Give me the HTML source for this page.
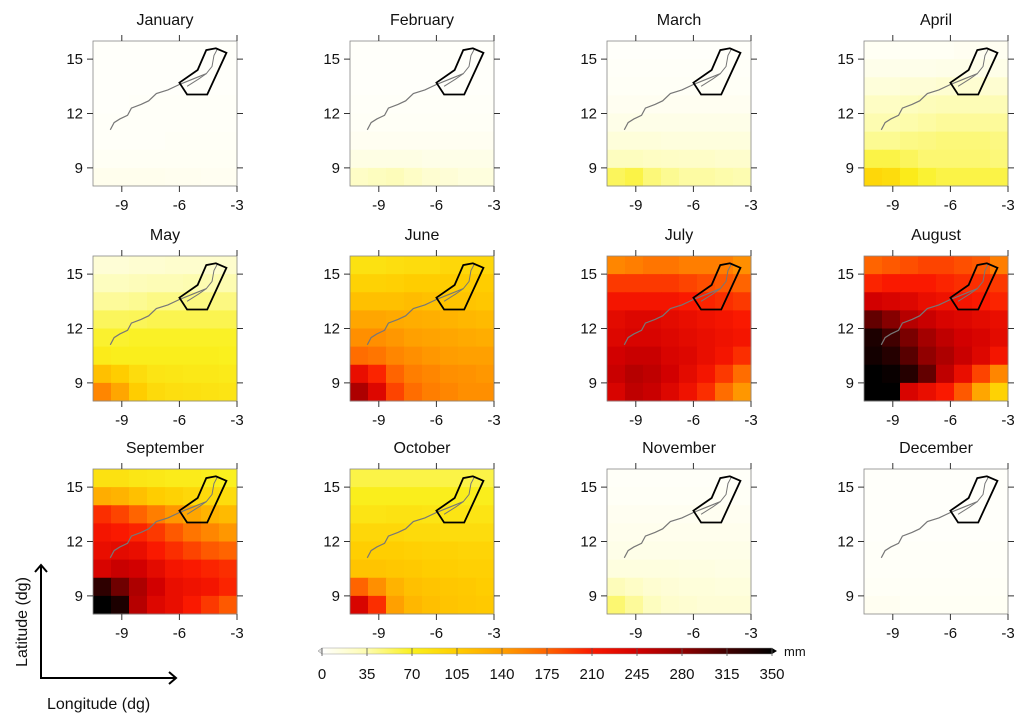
<!DOCTYPE html>
<html><head><meta charset="utf-8"><style>
body{margin:0;background:#fff;width:1024px;height:723px;overflow:hidden}
svg{display:block;font-family:"Liberation Sans",sans-serif}
</style></head><body>
<svg id="chart" width="1024" height="723" viewBox="0 0 1024 723"></svg>
<script>
const months=["January","February","March","April","May","June","July","August","September","October","November","December"];
// 8x8 grid per month, rows from north (16) to south (8), cols from west (-10.5) to east (-3), mm
const janVals=[[2,2,2,2,2,2,2,2],[2,2,2,2,2,2,2,2],[2,2,2,2,2,2,2,2],[2,2,3,3,3,3,3,3],[3,3,3,3,3,3,3,3],[3,3,3,3,4,4,4,4],[5,5,5,5,5,5,5,5],[8,8,8,8,7,7,6,6]];
const febVals=[[2,2,2,2,2,2,2,2],[2,2,2,2,2,2,2,2],[2,2,2,2,2,2,2,2],[3,3,3,3,3,3,3,3],[4,4,4,4,4,4,4,4],[6,6,6,6,6,6,6,6],[12,12,12,12,10,10,10,10],[25,28,30,25,20,18,15,15]];
const marVals=[[2,2,2,2,2,2,2,2],[3,3,3,3,3,3,3,3],[4,4,4,4,4,4,4,4],[6,6,6,6,6,6,6,6],[10,10,10,10,10,10,10,10],[16,16,16,15,15,15,15,15],[28,28,26,25,24,24,22,22],[55,60,48,42,38,38,36,34]];
const aprVals=[[5,5,5,5,5,6,6,6],[9,9,9,9,10,10,10,10],[16,16,18,18,20,20,20,20],[26,26,28,30,32,32,32,32],[34,34,36,38,40,40,40,40],[42,42,45,46,48,48,48,46],[60,60,55,50,50,50,50,48],[95,90,75,65,60,60,60,60]];
const mayVals=[[18,18,20,20,22,22,22,22],[28,28,30,32,32,34,34,34],[40,40,42,45,45,46,46,46],[55,55,56,58,58,58,58,58],[66,66,68,68,68,68,68,68],[75,72,72,72,72,72,72,70],[115,105,90,82,80,78,78,76],[155,135,105,92,88,86,84,82]];
const junVals=[[85,85,88,90,90,95,95,95],[100,100,102,105,105,105,105,105],[115,115,115,118,115,112,112,110],[135,135,132,130,128,125,122,120],[150,150,145,140,138,135,132,130],[170,165,155,150,145,142,140,140],[225,205,175,160,155,150,148,145],[265,235,190,170,160,155,150,150]];
const julVals=[[155,160,165,165,160,160,160,150],[195,195,195,195,190,185,180,175],[215,215,215,215,210,205,200,195],[230,235,235,230,225,220,215,210],[235,240,240,235,230,225,220,215],[245,250,250,240,235,225,215,200],[250,260,255,245,230,215,195,170],[240,255,250,235,220,200,170,145]];
const augVals=[[175,180,185,190,190,185,180,160],[205,210,210,210,205,200,200,195],[245,240,235,225,220,215,210,205],[300,285,260,250,240,235,230,225],[335,315,290,270,255,245,240,230],[340,330,305,280,265,250,235,215],[350,345,330,300,255,225,190,155],[350,350,240,225,210,180,135,100]];
const sepVals=[[85,85,80,78,75,75,72,70],[130,125,115,105,100,95,92,90],[200,190,175,160,145,135,125,120],[215,210,205,195,180,165,155,145],[225,230,225,210,200,190,180,175],[240,250,245,230,215,210,205,200],[325,295,265,245,225,220,215,205],[350,335,260,235,225,210,195,180]];
const octVals=[[60,60,60,60,60,60,60,60],[72,72,72,72,72,72,72,72],[82,82,84,84,82,82,82,82],[95,95,95,92,92,90,90,90],[104,104,104,102,100,100,98,98],[112,112,110,108,105,104,102,102],[175,150,125,115,112,110,108,105],[240,200,140,122,116,112,110,108]];
const novVals=[[3,3,3,3,3,3,3,3],[4,4,4,4,4,4,4,4],[6,6,6,6,6,6,6,6],[8,8,8,8,8,8,8,8],[10,10,10,10,10,10,10,10],[14,14,14,14,13,13,12,12],[30,25,20,18,16,16,15,15],[50,40,28,22,20,18,18,18]];
const decVals=[[2,2,2,2,2,2,2,2],[2,2,2,2,2,2,2,2],[2,2,2,2,2,2,2,2],[2,2,2,2,2,2,2,2],[3,3,3,3,3,3,3,3],[3,3,3,3,3,3,3,3],[4,4,4,4,4,4,4,4],[6,6,5,5,5,5,5,5]];
const monthData=[janVals,febVals,marVals,aprVals,mayVals,junVals,julVals,augVals,sepVals,octVals,novVals,decVals];
const latTicks=[9,12,15];
const lonTicks=[-9,-6,-3];
const cbarTicks=[0,35,70,105,140,175,210,245,280,315,350];
const zoneLon=[-6.0,-5.6,-4.55,-3.55,-4.1,-4.6,-5.05];
const zoneLat=[13.7,13.05,13.05,15.35,15.6,15.5,14.4];
const riverLon=[-9.6,-9.4,-9.1,-8.7,-8.5,-8.0,-7.6,-7.2,-6.6,-6.0,-5.3,-4.6];
const riverLat=[11.1,11.5,11.7,11.9,12.3,12.5,12.7,13.1,13.3,13.6,13.9,14.2];
const river2Lon=[-5.6,-5.0,-4.6,-4.3,-4.2,-4.0];
const river2Lat=[13.5,13.9,14.2,14.6,15.2,15.6];

const svg=document.getElementById('chart');
const NS='http://www.w3.org/2000/svg';
function mk(tag,attrs,parent){const e=document.createElementNS(NS,tag);for(const k in attrs)e.setAttribute(k,attrs[k]);(parent||svg).appendChild(e);return e;}
const stops=[[0,[255,255,255]],[35,[253,252,175]],[70,[250,240,30]],[105,[255,205,0]],[140,[255,160,0]],[175,[255,100,0]],[210,[250,25,0]],[245,[210,0,0]],[280,[145,0,0]],[315,[65,0,0]],[350,[0,0,0]]];
function color(v){v=Math.max(0,Math.min(350,v));for(let i=1;i<stops.length;i++){if(v<=stops[i][0]){const a=stops[i-1],b=stops[i];const t=(v-a[0])/(b[0]-a[0]);const c=a[1].map((x,j)=>Math.round(x+(b[1][j]-x)*t));return `rgb(${c})`;}}return 'rgb(0,0,0)';}
const colX=[93,350,607,864],rowY=[41,256,469],W=144,H=145;
const lonMin=-10.5,lonMax=-3,latMin=8,latMax=16;
months.forEach((m,i)=>{
  const x0=colX[i%4],y0=rowY[Math.floor(i/4)];
  const g=mk('g',{});
  
  
  const sx=lon=>x0+(lon-lonMin)/(lonMax-lonMin)*W;
  const sy=lat=>y0+(latMax-lat)/(latMax-latMin)*H;
  const t=mk('text',{x:x0+W/2,y:y0-16,'text-anchor':'middle','font-size':16,fill:'#111'},g);t.textContent=m;
  
  
  const data=monthData[i];const nr=data.length,nc=data[0].length;
  const cw=(lonMax-lonMin)/nc,ch=(latMax-latMin)/nr;
  data.forEach((row,r)=>row.forEach((v,c)=>{
    const lx=lonMin+c*cw,ly=latMax-r*ch;
    const rc=mk('rect',{x:sx(lx),y:sy(ly),width:sx(lx+cw)-sx(lx)+0.5,height:sy(ly-ch)-sy(ly)+0.5,fill:color(v)},g);
    
    
  }));
  const fr=mk('rect',{x:x0,y:y0,width:W,height:H,fill:'none',stroke:'#888','stroke-width':0.8},g);
  
  
  const rv=mk('polyline',{points:riverLon.map((l,k)=>sx(l)+','+sy(riverLat[k])).join(' '),fill:'none',stroke:'#777','stroke-width':1.2},g);
  
  
  const rv2=mk('polyline',{points:river2Lon.map((l,k)=>sx(l)+','+sy(river2Lat[k])).join(' '),fill:'none',stroke:'#777','stroke-width':1},g);
  
  
  const zn=mk('polygon',{points:zoneLon.map((l,k)=>sx(l)+','+sy(zoneLat[k])).join(' '),fill:'none',stroke:'#000','stroke-width':1.8},g);
  
  
  latTicks.forEach(v=>{
    const y=sy(v);
    mk('line',{x1:x0-6,x2:x0,y1:y,y2:y,stroke:'#333'},g);
    mk('line',{x1:x0+W,x2:x0+W+6,y1:y,y2:y,stroke:'#333'},g);
    const tl=mk('text',{x:x0-10,y:y+5,'text-anchor':'end','font-size':15,fill:'#111'},g);tl.textContent=v;
    
    
  });
  lonTicks.forEach(v=>{
    const x=sx(v);
    mk('line',{x1:x,x2:x,y1:y0+H,y2:y0+H+6,stroke:'#333'},g);
    mk('line',{x1:x,x2:x,y1:y0-6,y2:y0,stroke:'#333'},g);
    const tl=mk('text',{x:x,y:y0+H+24,'text-anchor':'middle','font-size':15,fill:'#111'},g);tl.textContent=v;
    
    
  });
});
// colorbar
const cbX0=322,cbX1=772,cbY=651;
const cb=mk('g',{});


const grad=mk('linearGradient',{id:'cbg',x1:0,x2:1,y1:0,y2:0},mk('defs',{}));
stops.forEach(s=>mk('stop',{offset:s[0]/350,'stop-color':color(s[0])},grad));
mk('rect',{x:cbX0,y:cbY-3,width:cbX1-cbX0,height:6,fill:'url(#cbg)',stroke:'#999','stroke-width':0.5},cb);
mk('polygon',{points:`${cbX1},${cbY-3} ${cbX1+5},${cbY} ${cbX1},${cbY+3}`,fill:'#000'},cb);
mk('polygon',{points:`${cbX0},${cbY-3} ${cbX0-4},${cbY} ${cbX0},${cbY+3}`,fill:'#ddd',stroke:'#888','stroke-width':0.5},cb);
cbarTicks.forEach(v=>{
  const x=cbX0+v/350*(cbX1-cbX0);
  mk('line',{x1:x,x2:x,y1:cbY-3,y2:cbY+5,stroke:'#555','stroke-width':0.8},cb);
  const tl=mk('text',{x:x,y:cbY+28,'text-anchor':'middle','font-size':15,fill:'#111'},cb);tl.textContent=v;
  
  
});
const mmT=mk('text',{x:cbX1+12,y:cbY+5,'font-size':13,fill:'#111'},cb);mmT.textContent='mm';


// axis arrows
const ar=mk('g',{stroke:'#000','stroke-width':2,fill:'none'});


mk('polyline',{points:'41,565 41,678 176,678'},ar);
mk('polyline',{points:'35,572 41,565 47,572'},ar);
mk('polyline',{points:'169,672 176,678 169,684'},ar);
const latL=mk('text',{x:0,y:0,transform:'translate(27,622) rotate(-90)','text-anchor':'middle','font-size':16,fill:'#111'});latL.textContent='Latitude (dg)';


const lonL=mk('text',{x:47,y:709,'font-size':16,fill:'#111'});lonL.textContent='Longitude (dg)';


</script>
</body></html>
